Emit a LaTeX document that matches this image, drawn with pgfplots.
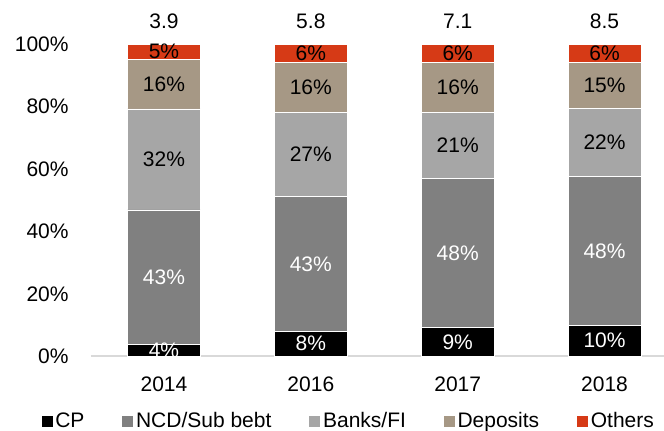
\documentclass[border=0pt]{standalone}
\usepackage{fontspec}
\setmainfont{Liberation Sans}
\usepackage{pgfplots}
\pgfplotsset{compat=1.18}

\definecolor{cCP}{HTML}{000000}
\definecolor{cNCD}{HTML}{808080}
\definecolor{cBank}{HTML}{A6A6A6}
\definecolor{cDep}{HTML}{A69885}
\definecolor{cOth}{HTML}{D63A16}
\definecolor{axgray}{HTML}{D9D9D9}

\pgfplotsset{frame/.style={
    at={(0,0)}, anchor=south west,
    scale only axis,
    width=286.5pt, height=156pt,
    xmin=-0.497, xmax=3.405,
    ymin=0, ymax=100,
    clip=false,
    font=\fontsize{10.5}{12}\selectfont,
}}

\begin{document}
\begin{tikzpicture}
\begin{axis}[
    frame,
    ybar stacked,
    bar width=36.5pt,
    xtick={0,1,2,3},
    xticklabels={2014,2016,2017,2018},
    ytick={0,20,40,60,80,100},
    yticklabels={0\%,20\%,40\%,60\%,80\%,100\%},
    major tick length=0pt,
    axis x line*=bottom,
    axis y line*=left,
    x axis line style={draw=axgray, line width=1pt, -},
    y axis line style={draw=none},
    xticklabel style={anchor=base, inner sep=0pt, yshift=-17.75pt},
    yticklabel style={anchor=base east, inner sep=0pt, xshift=-11pt, yshift=-3.75pt},
    point meta=explicit symbolic,
    nodes near coords={\pgfplotspointmeta},
    every node near coord/.style={anchor=center, inner sep=0pt},
    legend columns=-1,
    legend style={draw=none, fill=none, at={(0.449,-0.2106)}, anchor=center,
        font=\fontsize{10.5}{12}\selectfont,
        nodes={inner sep=1pt},
        /tikz/every even column/.append style={column sep=17.5pt}},
    legend image code/.code={\fill[#1] (0pt,-3pt) rectangle (6pt,3pt);},
]

% CP
\addplot[fill=cCP, draw=white, line width=0.3pt,
    every node near coord/.append style={text=white}] coordinates {
(0,3.8) [4\%]
(1,7.9) [8\%]
(2,9.1) [9\%]
(3,9.9) [10\%]
};
% NCD/Sub bebt
\addplot[fill=cNCD, draw=white, line width=0.3pt,
    every node near coord/.append style={text=white}] coordinates {
(0,43.0) [43\%]
(1,43.2) [43\%]
(2,47.9) [48\%]
(3,47.6) [48\%]
};
% Banks/FI
\addplot[fill=cBank, draw=white, line width=0.3pt] coordinates {
(0,32.4) [32\%]
(1,27.0) [27\%]
(2,21.0) [21\%]
(3,21.9) [22\%]
};
% Deposits
\addplot[fill=cDep, draw=white, line width=0.3pt] coordinates {
(0,15.9) [16\%]
(1,15.9) [16\%]
(2,16.0) [16\%]
(3,14.7) [15\%]
};
% Others
\addplot[fill=cOth, draw=white, line width=0.3pt] coordinates {
(0,4.9) [5\%]
(1,6.0) [6\%]
(2,6.0) [6\%]
(3,5.9) [6\%]
};

\legend{CP, NCD/Sub bebt, Banks/FI, Deposits, Others}
\end{axis}

% totals above the bars
\begin{axis}[frame, hide axis]
\addplot[draw=none, mark=none, point meta=explicit symbolic,
    nodes near coords={\pgfplotspointmeta},
    every node near coord/.style={anchor=base, inner sep=0pt, yshift=7.5pt, text=black}]
coordinates {
(0,100) [3.9]
(1,100) [5.8]
(2,100) [7.1]
(3,100) [8.5]
};
\end{axis}
\pgfresetboundingbox
\path (-45.5pt,-37pt) rectangle (286.5pt,178pt);
\end{tikzpicture}
\end{document}
